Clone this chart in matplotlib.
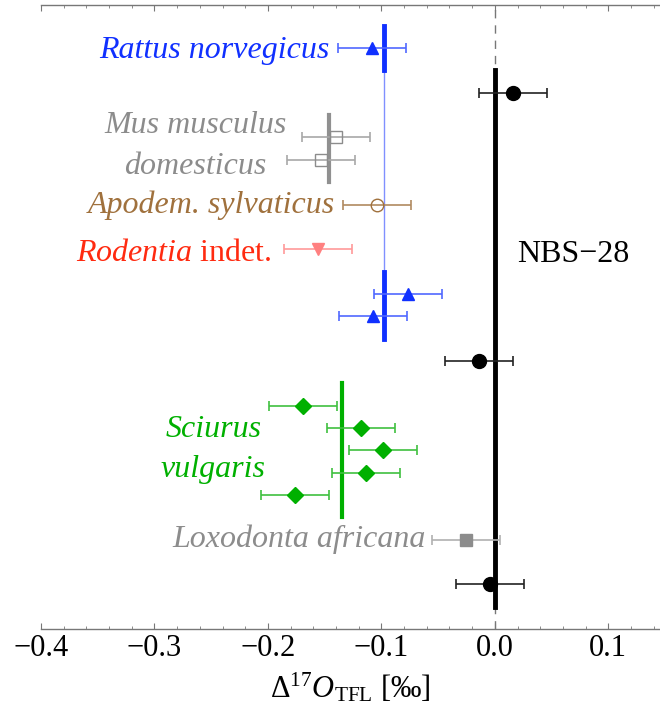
import matplotlib
matplotlib.use("Agg")
import matplotlib.pyplot as plt
from matplotlib.ticker import MultipleLocator

plt.rcParams['font.family'] = ['Liberation Serif', 'DejaVu Serif']
plt.rcParams['mathtext.fontset'] = 'custom'
plt.rcParams['mathtext.rm'] = 'Liberation Serif'
plt.rcParams['mathtext.it'] = 'Liberation Serif:italic'

# measurements: row position and value, all with the same error
rattus_rows = [1, 12, 13]
rattus_vals = [-0.108, -0.0765, -0.107]
mus_rows = [5, 6]
mus_vals = [-0.140, -0.153]
apodemus_rows = [8]
apodemus_vals = [-0.1035]
rodentia_rows = [10]
rodentia_vals = [-0.156]
sciurus_rows = [17, 18, 19, 20, 21]
sciurus_vals = [-0.169, -0.118, -0.0988, -0.1136, -0.1764]
loxodonta_rows = [23]
loxodonta_vals = [-0.0253]
nbs_rows = [3, 15, 25]
nbs_vals = [0.016, -0.0138, -0.0041]
err = 0.030

# group means
rattus_mean = -0.098
mus_mean = -0.1465
sciurus_mean = -0.135
nbs_mean = 0.0

fig = plt.figure(figsize=(6.6, 7.14), dpi=100)
ax = fig.add_axes([0.062, 0.119, 0.938, 0.874])

blue = '#1030ff'
gray = '#8c8c8c'
brown = '#a0713d'
red = '#ff2a10'
green = '#00b000'

ax.axvline(0, color='#777777', lw=1, ls=(0, (6, 5)), zorder=0)

def errs(rows, vals, marker, color, ecolor, mfc=None, ms=9):
    ax.errorbar(vals, rows, xerr=err, fmt=marker, color=color, ecolor=ecolor,
                mfc=mfc if mfc else color, mec=color, ms=ms, elinewidth=1.2,
                capsize=3.5, capthick=1.2, zorder=3)

# mean lines
ax.plot([nbs_mean, nbs_mean], [2, 26], color='black', lw=3.5, zorder=2)
ax.plot([rattus_mean, rattus_mean], [2, 11], color='#8090ff', lw=1, zorder=1)
ax.plot([rattus_mean, rattus_mean], [0, 2], color=blue, lw=3.5, zorder=2)
ax.plot([rattus_mean, rattus_mean], [11, 14], color=blue, lw=3.5, zorder=2)
ax.plot([mus_mean, mus_mean], [4, 7], color='#909090', lw=3, zorder=2)
ax.plot([sciurus_mean, sciurus_mean], [16, 22], color=green, lw=3, zorder=2)

errs(rattus_rows, rattus_vals, '^', blue, '#5068ff', ms=9)
errs(mus_rows, mus_vals, 's', gray, '#a8a8a8', mfc='none', ms=9)
errs(apodemus_rows, apodemus_vals, 'o', brown, '#b08a60', mfc='none', ms=9)
errs(rodentia_rows, rodentia_vals, 'v', '#ff8080', '#ff9a9a', ms=8)
errs(sciurus_rows, sciurus_vals, 'D', green, '#40c040', ms=8)
errs(loxodonta_rows, loxodonta_vals, 's', gray, '#b0b0b0', ms=8)
errs(nbs_rows, nbs_vals, 'o', 'black', '#222222', ms=10)

fs = 23
ax.text(-0.1455, 1.45, 'Rattus norvegicus', color=blue, fontsize=fs,
        style='italic', ha='right', va='baseline')
ax.text(-0.264, 4.81, 'Mus musculus', color=gray, fontsize=fs,
        style='italic', ha='center', va='baseline')
ax.text(-0.264, 6.64, 'domesticus', color=gray, fontsize=fs,
        style='italic', ha='center', va='baseline')
ax.text(-0.141, 8.39, 'Apodem. sylvaticus', color=brown, fontsize=fs,
        style='italic', ha='right', va='baseline')
ax.text(-0.197, 10.54, r'$\mathit{Rodentia}$ indet.', color=red, fontsize=fs,
        ha='right', va='baseline')
ax.text(-0.248, 18.42, 'Sciurus', color=green, fontsize=fs,
        style='italic', ha='center', va='baseline')
ax.text(-0.248, 20.21, 'vulgaris', color=green, fontsize=fs,
        style='italic', ha='center', va='baseline')
ax.text(-0.0608, 23.35, 'Loxodonta africana', color=gray, fontsize=fs,
        style='italic', ha='right', va='baseline')
ax.text(0.0194, 10.58, 'NBS\u221228', color='black', fontsize=fs,
        ha='left', va='baseline')

ax.set_xlim(-0.4, 0.1455)
ax.set_ylim(27.0, -0.93)
ax.set_yticks([])
for s in ['left', 'right']:
    ax.spines[s].set_visible(False)
for s in ['top', 'bottom']:
    ax.spines[s].set_color('#777777')
    ax.spines[s].set_linewidth(1)
ax.xaxis.set_major_locator(MultipleLocator(0.1))
ax.xaxis.set_minor_locator(MultipleLocator(0.02))
ax.tick_params(axis='x', which='both', direction='in', top=True,
               colors='#777777', labelcolor='black', labelsize=22)
ax.tick_params(axis='x', which='major', length=4, width=0.8)
ax.tick_params(axis='x', which='minor', length=2.5, width=0.6)
ax.set_xticks([-0.4, -0.3, -0.2, -0.1, 0.0, 0.1])
ax.set_xticklabels(['\u22120.4', '\u22120.3', '\u22120.2', '\u22120.1', '0.0', '0.1'])
ax.set_xlabel(r'$\Delta^{17}\mathit{O}_{\mathrm{TFL}}$' + ' [\u2030]', fontsize=22, labelpad=6)

fig.savefig('out.png', dpi=100)
